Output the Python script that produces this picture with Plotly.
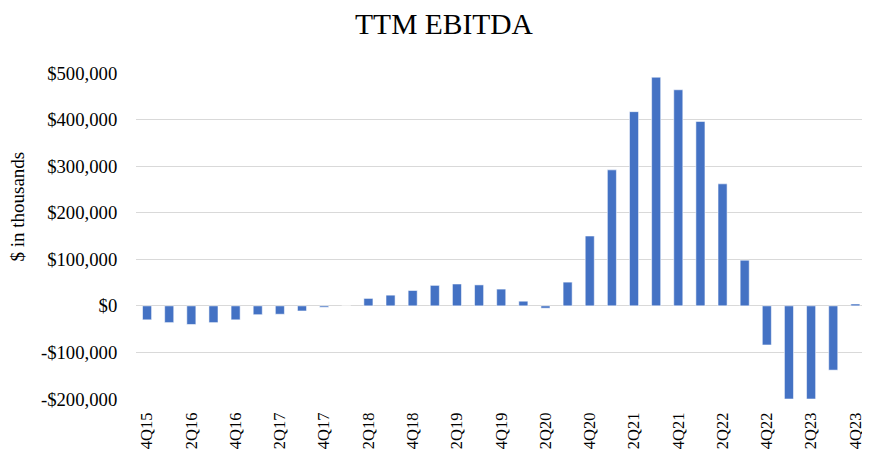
import plotly.graph_objects as go

quarters = ["4Q15", "1Q16", "2Q16", "3Q16", "4Q16", "1Q17", "2Q17", "3Q17", "4Q17",
            "1Q18", "2Q18", "3Q18", "4Q18", "1Q19", "2Q19", "3Q19", "4Q19",
            "1Q20", "2Q20", "3Q20", "4Q20", "1Q21", "2Q21", "3Q21", "4Q21",
            "1Q22", "2Q22", "3Q22", "4Q22", "1Q23", "2Q23", "3Q23", "4Q23"]
ebitda = [-30000, -36000, -40000, -36000, -30000, -19000, -18000, -11000, -3000,
          0, 16000, 23000, 33000, 44000, 47000, 45000, 36000,
          10000, -5000, 51000, 150000, 292000, 417000, 491000, 464000,
          396000, 262000, 98000, -84000, -200000, -200000, -138000, 4000]
y_ticks = [-200000, -100000, 0, 100000, 200000, 300000, 400000, 500000]
y_labels = ["-$200,000", "-$100,000", "$0", "$100,000", "$200,000", "$300,000", "$400,000", "$500,000"]

x_idx = list(range(len(quarters)))
shown = x_idx[::2]

# the page body has an 8px default margin on every side
OFF = 8
W, H = 870 - 2 * OFF, 452 - OFF
plot_left = 135.5 - OFF
plot_top = 72.7 - OFF
plot_bottom = 399.5 - OFF
plot_w = W - plot_left
plot_h = plot_bottom - plot_top

fig = go.Figure(go.Bar(
    x=x_idx, y=ebitda,
    marker=dict(color="#4472C4", line=dict(color="rgba(255,255,255,0.55)", width=1)),
    hovertext=quarters,
))

font_family = "Liberation Serif, Times New Roman, serif"
fig.update_layout(
    width=W, height=H,
    margin=dict(l=plot_left, r=0, t=plot_top, b=H - plot_bottom, pad=0),
    paper_bgcolor="white", plot_bgcolor="white",
    bargap=0.59,
    showlegend=False,
    font=dict(family=font_family, color="#000000", size=18.7),
    title=dict(text="TTM EBITDA", x=(444 - OFF) / W, xref="container", xanchor="center",
               y=1 - (24 - OFF) / H, yref="container", yanchor="middle",
               font=dict(family=font_family, size=29.5, color="#000000")),
    annotations=[dict(text="$ in thousands", textangle=-90,
                      x=(17 - OFF - plot_left) / plot_w,
                      y=1 - (207 - OFF - plot_top) / plot_h,
                      xref="paper", yref="paper",
                      xanchor="center", yanchor="middle", showarrow=False,
                      font=dict(family=font_family, size=19, color="#000000"))],
)

fig.update_xaxes(
    range=[-0.5, 32.3], automargin=False,
    tickmode="array", tickvals=shown,
    ticktext=[quarters[i] for i in shown],
    tickangle=-90, showgrid=False, zeroline=False, showline=False,
    ticks="outside", ticklen=6, tickcolor="rgba(0,0,0,0)",
    ticklabeloverflow="allow",
    tickfont=dict(family=font_family, size=16.5, color="#000000"),
)
fig.update_yaxes(
    range=[-200000, 500000], automargin=False,
    tickmode="array", tickvals=y_ticks, ticktext=y_labels,
    showgrid=True, gridcolor="#D9D9D9", gridwidth=1,
    zeroline=True, zerolinecolor="#D9D9D9", zerolinewidth=1,
    showline=False,
    ticks="outside", ticklen=14, tickcolor="rgba(0,0,0,0)",
    tickfont=dict(family=font_family, size=18.7, color="#000000"),
)

fig.write_html("out.html")
